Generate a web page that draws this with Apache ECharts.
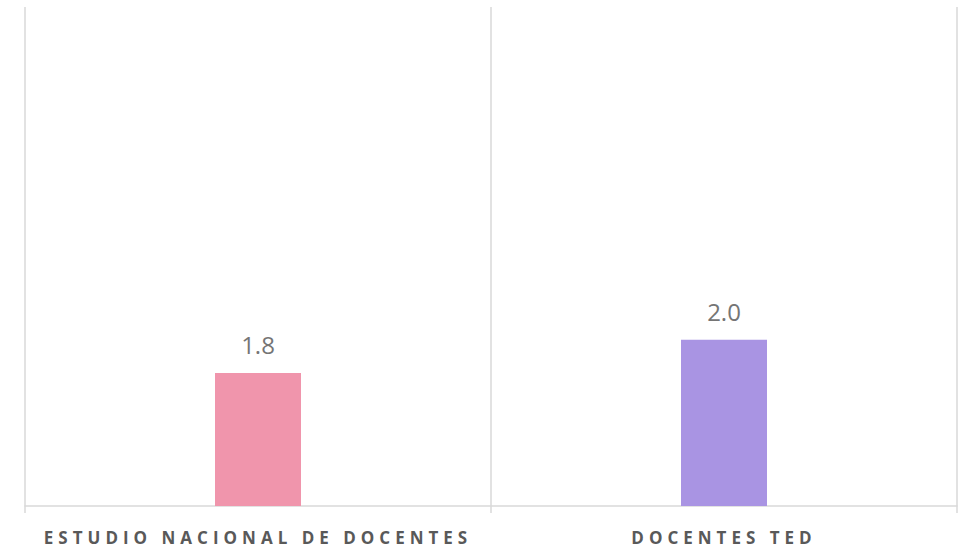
<!DOCTYPE html>
<html>
<head>
<meta charset="utf-8">
<script src="https://cdn.jsdelivr.net/npm/echarts@6/dist/echarts.min.js"></script>
<style>
    html, body { margin: 0; padding: 0; background: #fff; }
    #main { width: 961px; height: 550px; }
    /* espaciado de letras de las categorías (como en Excel) */
    #main text[style*="bold"] { letter-spacing: 5px; }
</style>
</head>
<body>
<div id="main"></div>
<script>
var categorias = ['ESTUDIO NACIONAL DE DOCENTES', 'DOCENTES TED'];
var valores = [1.8, 2.0];
var colores = ['#F095AC', '#A994E3'];

var myChart = echarts.init(document.getElementById('main'), null, { renderer: 'svg' });

var option = {
    animation: false,
    grid: { left: 25, right: 4, top: 7, bottom: 44 },
    xAxis: {
        type: 'category',
        data: categorias,
        boundaryGap: true,
        axisLine: { lineStyle: { color: '#d9d9d9', width: 1.5 } },
        axisTick: { show: true, length: 7, lineStyle: { color: '#d9d9d9', width: 1.5 } },
        splitLine: { show: true, lineStyle: { color: '#d9d9d9', width: 1.5 } },
        axisLabel: {
            color: '#595959',
            fontFamily: 'Open Sans',
            fontWeight: 'bold',
            fontSize: 17,
            margin: 23
        }
    },
    yAxis: {
        type: 'value',
        min: 1,
        max: 4,
        show: false,
        splitLine: { show: false }
    },
    series: [{
        type: 'bar',
        barWidth: 86,
        data: valores.map(function (v, i) {
            return { value: v, itemStyle: { color: colores[i] } };
        }),
        label: {
            show: true,
            position: 'top',
            distance: 16,
            color: '#757575',
            fontFamily: 'Open Sans',
            fontSize: 24,
            formatter: function (p) { return p.value.toFixed(1); }
        }
    }]
};
myChart.setOption(option);
</script>
</body>
</html>
